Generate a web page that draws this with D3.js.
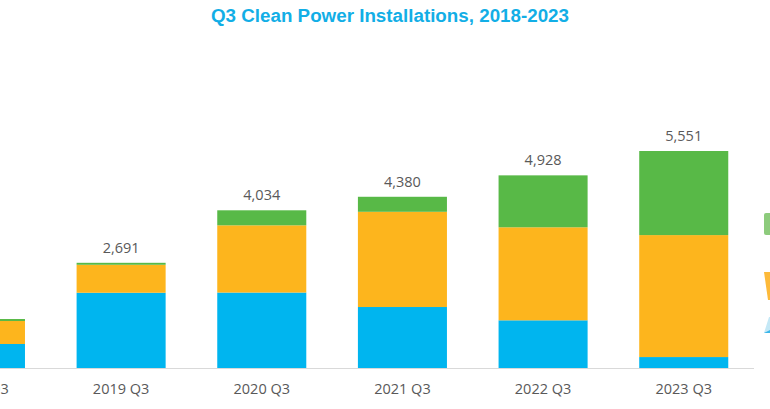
<!DOCTYPE html>
<html>
<head>
<meta charset="utf-8">
<script src="https://cdn.jsdelivr.net/npm/d3@7"></script>
<style>
  html, body { margin: 0; padding: 0; background: #fff; }
  svg { display: block; }
</style>
</head>
<body>
<svg id="chart" width="770" height="409"></svg>
<script>
const categories = ["2018 Q3", "2019 Q3", "2020 Q3", "2021 Q3", "2022 Q3", "2023 Q3"];
const seriesNames = ["Blue", "Orange", "Green"];
const blueValues   = [614, 1925, 1930, 1560, 1220, 280];
const orangeValues = [588, 716, 1720, 2436, 2380, 3120];
const greenValues  = [51, 50, 384, 384, 1328, 2151];
const totals       = [1253, 2691, 4034, 4380, 4928, 5551];
const colors = ["#00B5EF", "#FDB51D", "#58B947"];

const svg = d3.select("#chart");
const baseline = 368;

const x = d3.scaleBand()
  .domain(categories)
  .range([-89.8, 754])
  .paddingInner(0.367)
  .paddingOuter(0.183);

const y = d3.scaleLinear()
  .domain([0, 5551])
  .range([baseline, 151]);

const rows = categories.map((c, i) => ({
  cat: c, Blue: blueValues[i], Orange: orangeValues[i], Green: greenValues[i], total: totals[i]
}));

const stack = d3.stack().keys(seriesNames)(rows);

// title
svg.append("text")
  .attr("x", 390).attr("y", 22)
  .attr("text-anchor", "middle")
  .attr("font-family", "Liberation Sans, Arial, sans-serif")
  .attr("font-weight", "bold")
  .attr("font-size", 18.8)
  .attr("fill", "#12AEE6")
  .text("Q3 Clean Power Installations, 2018-2023");

// bars
svg.append("g").selectAll("g")
  .data(stack)
  .join("g")
  .attr("fill", (d, i) => colors[i])
  .selectAll("rect")
  .data(d => d)
  .join("rect")
  .attr("x", d => x(d.data.cat))
  .attr("width", x.bandwidth())
  .attr("y", d => y(d[1]))
  .attr("height", d => y(d[0]) - y(d[1]));

// axis line
svg.append("line")
  .attr("x1", 0).attr("x2", x.range()[1])
  .attr("y1", baseline + 0.5).attr("y2", baseline + 0.5)
  .attr("stroke", "#D9D9D9").attr("stroke-width", 1.2);

// category labels
svg.append("g").selectAll("text")
  .data(categories)
  .join("text")
  .attr("x", d => x(d) + x.bandwidth() / 2)
  .attr("y", 394)
  .attr("text-anchor", "middle")
  .attr("font-family", "Open Sans, Liberation Sans, sans-serif")
  .attr("font-size", 14.5)
  .attr("fill", "#595959")
  .text(d => d);

// total labels
svg.append("g").selectAll("text")
  .data(rows)
  .join("text")
  .attr("x", d => x(d.cat) + x.bandwidth() / 2)
  .attr("y", d => y(d.total) - 10)
  .attr("text-anchor", "middle")
  .attr("font-family", "Open Sans, Liberation Sans, sans-serif")
  .attr("font-size", 14.5)
  .attr("fill", "#595959")
  .text(d => d3.format(",")(d.total));

// partially visible legend icons at right edge
const icons = svg.append("g");
icons.append("rect")
  .attr("x", 764).attr("y", 213).attr("width", 14).attr("height", 22)
  .attr("rx", 2).attr("fill", "#8DCB7C");
icons.append("path")
  .attr("d", "M764,272 L775,272 L775,300 L768,300 Z")
  .attr("fill", "#FDBA3A");
icons.append("path")
  .attr("d", "M769,317 L775,317 L775,333 L764,333 Z")
  .attr("fill", "#C4E8F6");
icons.append("path")
  .attr("d", "M764,333 L770,330 L770,333 Z")
  .attr("fill", "#3BB6EA");
</script>
</body>
</html>
